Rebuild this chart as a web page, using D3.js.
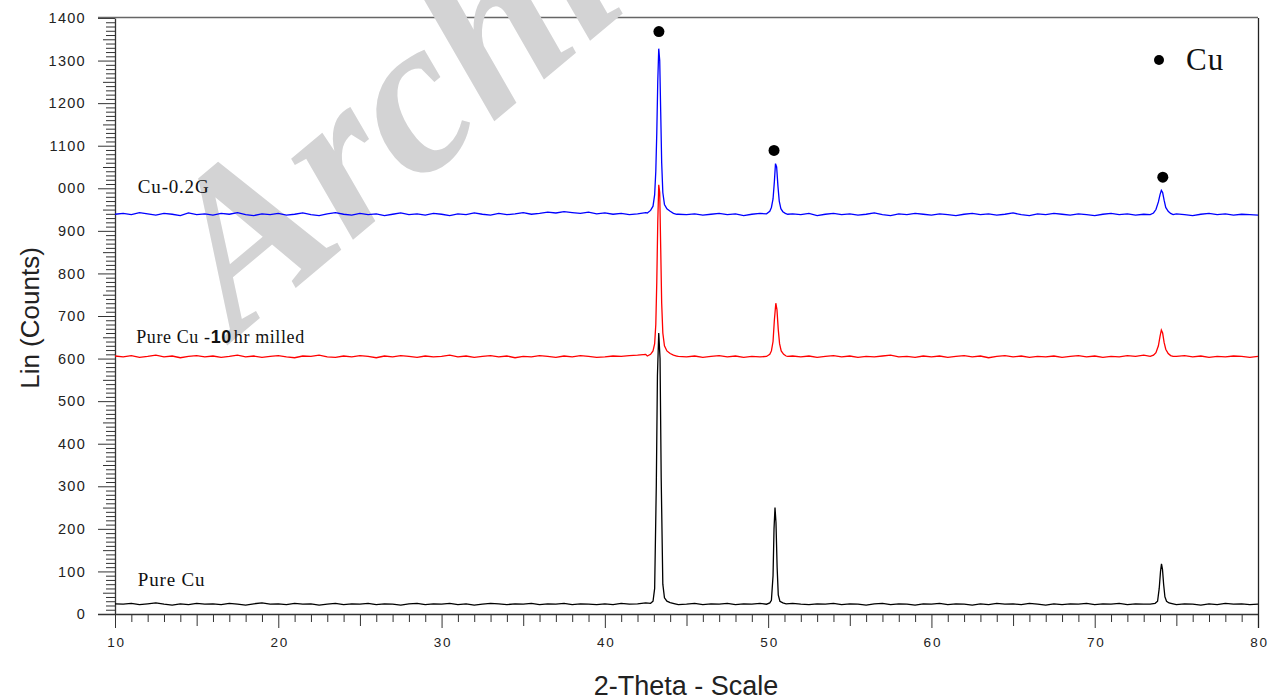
<!DOCTYPE html>
<html>
<head>
<meta charset="utf-8">
<script src="https://cdn.jsdelivr.net/npm/d3@7"></script>
<style>
  body { margin: 0; background: #fff; }
  svg { display: block; font-family: Arial, "Liberation Sans", sans-serif; }
  .tick line { stroke: #333; }
  .tick text { fill: #222; }
  .domain { stroke: #333; }
  .serif { font-family: "Liberation Serif", "Times New Roman", serif; fill: #111; }
</style>
</head>
<body>
<svg id="chart"></svg>
<script>
(function() {
  'use strict';

  // baseline counts read every 0.5 degree, 10 .. 80
  const baseStart = 10;
  const baseStep = 0.5;

  const blueBase = [
    939, 941, 938, 943, 940, 937, 941, 939, 936, 942, 938, 940, 937, 941, 939, 943, 938, 936, 940, 938,
    941, 937, 939, 942, 938, 936, 940, 943, 939, 937, 941, 938, 940, 936, 939, 942, 938, 940, 937, 941,
    939, 936, 940, 938, 942, 939, 937, 941, 938, 940, 943, 939, 941, 944, 942, 945, 943, 941, 944, 940,
    942, 939, 941, 938, 940, 943, 944, 950, 941, 939, 938, 940, 937, 939, 941, 938, 940, 936, 939, 941,
    944, 950, 960, 940, 938, 941, 936, 939, 941, 938, 940, 937, 939, 942, 938, 936, 940, 938, 941, 939,
    937, 940, 938, 936, 939, 941, 938, 940, 937, 939, 942, 938, 936, 940, 938, 941, 939, 937, 940, 938,
    936, 939, 941, 938, 940, 937, 939, 938, 941, 937, 940, 938, 936, 939, 941, 938, 940, 937, 939, 938,
    937
  ];

  const redBase = [
    606, 604, 607, 603, 605, 608, 604, 606, 602, 605, 607, 604, 606, 603, 605, 608, 604, 606, 603, 605,
    607, 604, 602, 606, 605, 608, 604, 603, 606, 604, 607, 605, 602, 606, 604, 607, 605, 603, 606, 604,
    605, 608, 604, 606, 603, 605, 607, 604, 606, 602, 605, 604, 607, 605, 603, 606, 604, 607, 605, 603,
    604, 606, 605, 607, 608, 610, 612, 609, 607, 605, 604, 606, 603, 605, 607, 604, 606, 603, 605, 604,
    605, 607, 610, 606, 604, 606, 603, 605, 607, 604, 606, 603, 605, 604, 606, 608, 604, 605, 603, 606,
    604, 606, 603, 605, 607, 604, 606, 602, 605, 607, 604, 606, 603, 605, 604, 606, 603, 605, 607, 604,
    606, 603, 605, 604, 607, 605, 608, 604, 606, 603, 605, 607, 604, 606, 603, 605, 604, 606, 605, 603,
    605
  ];

  const blackBase = [
    24, 23, 25, 22, 24, 26, 23, 21, 24, 22, 25, 23, 24, 22, 25, 23, 21, 24, 26, 23,
    24, 22, 25, 23, 24, 21, 23, 25, 22, 24, 23, 25, 22, 24, 23, 21, 24, 25, 22, 24,
    23, 25, 22, 24, 21, 23, 25, 24, 22, 24, 23, 25, 22, 24, 23, 25, 22, 24, 23, 22,
    24, 22, 25, 23, 24, 26, 30, 26, 24, 22, 23, 25, 22, 24, 23, 25, 22, 24, 23, 25,
    24, 26, 30, 25, 23, 22, 24, 23, 25, 22, 24, 23, 21, 24, 25, 22, 24, 23, 21, 24,
    23, 25, 22, 24, 23, 21, 24, 22, 25, 23, 24, 22, 25, 23, 21, 24, 22, 24, 23, 25,
    22, 24, 23, 25, 22, 24, 23, 25, 26, 24, 22, 24, 23, 21, 24, 22, 25, 23, 24, 22,
    23
  ];

  // peak profiles, [2-theta, counts]
  const bluePeaks = [
    [[42.6, 942], [42.8, 948], [42.95, 958], [43.05, 985], [43.12, 1040], [43.18, 1130], [43.24, 1250],
     [43.3, 1328], [43.36, 1300], [43.42, 1180], [43.48, 1060], [43.55, 990], [43.65, 962], [43.8, 952],
     [44.0, 946], [44.2, 941], [44.4, 939]],
    [[49.9, 940], [50.1, 946], [50.2, 955], [50.3, 975], [50.38, 1015], [50.45, 1058], [50.52, 1050],
     [50.6, 1005], [50.68, 970], [50.78, 952], [50.9, 945], [51.05, 941], [51.2, 939]],
    [[73.4, 938], [73.6, 942], [73.75, 950], [73.9, 968], [74.0, 985], [74.08, 995], [74.16, 990],
     [74.25, 972], [74.35, 955], [74.5, 946], [74.65, 941], [74.8, 938]]
  ];

  const redPeaks = [
    [[42.6, 606], [42.8, 610], [42.95, 618], [43.05, 635], [43.12, 680], [43.18, 780], [43.24, 920],
     [43.3, 1008], [43.36, 990], [43.42, 860], [43.48, 730], [43.55, 660], [43.65, 630], [43.8, 618],
     [44.0, 612], [44.2, 608], [44.4, 606]],
    [[49.9, 605], [50.1, 610], [50.2, 618], [50.3, 640], [50.38, 690], [50.47, 730], [50.54, 715],
     [50.62, 668], [50.7, 635], [50.8, 618], [50.95, 610], [51.1, 606], [51.2, 605]],
    [[73.4, 605], [73.6, 608], [73.75, 614], [73.9, 630], [74.0, 652], [74.08, 667], [74.16, 660],
     [74.25, 638], [74.35, 622], [74.5, 612], [74.65, 607], [74.8, 605]]
  ];

  const blackPeaks = [
    [[42.8, 25], [42.95, 30], [43.05, 60], [43.15, 300], [43.22, 560], [43.3, 660], [43.38, 600],
     [43.45, 320], [43.55, 70], [43.65, 38], [43.8, 30], [44.0, 27], [44.3, 24]],
    [[49.9, 23], [50.1, 26], [50.2, 32], [50.3, 90], [50.36, 200], [50.42, 250], [50.48, 215],
     [50.55, 110], [50.62, 45], [50.72, 30], [50.9, 26], [51.1, 24]],
    [[73.4, 23], [73.7, 25], [73.85, 30], [73.95, 60], [74.03, 100], [74.09, 118], [74.15, 105],
     [74.22, 70], [74.3, 40], [74.4, 30], [74.55, 26], [74.8, 24]]
  ];

  // Cu reflections marked with dots
  const cuMarks = [[43.31, 1368], [50.36, 1089], [74.17, 1026]];

  const xMajor = [10, 20, 30, 40, 50, 60, 70, 80];
  const yMajor = [0, 100, 200, 300, 400, 500, 600, 700, 800, 900, 1000, 1100, 1200, 1300, 1400];
  const yLabels = ['0', '100', '200', '300', '400', '500', '600', '700', '800', '900', '000', '1100', '1200', '1300', '1400'];

  const W = 1270, H = 700;
  const left = 115, right = 1258, top = 18, bottom = 614;

  const x = d3.scaleLinear().domain([10, 80]).range([left, right]);
  const y = d3.scaleLinear().domain([0, 1400]).range([bottom, top]);

  const svg = d3.select('#chart')
    .attr('width', W)
    .attr('height', H);

  const buildSeries = (base, peaks) => {
    const windows = peaks.map(p => [p[0][0], p[p.length - 1][0]]);
    const pts = base
      .map((v, i) => [baseStart + i * baseStep, v])
      .filter(d => !windows.some(w => d[0] >= w[0] && d[0] <= w[1]));
    return pts.concat(...peaks).sort((a, b) => a[0] - b[0]);
  };

  // y axis: minor, medium, major ticks
  const yMinor = d3.range(0, 1401, 10).filter(d => d % 50 !== 0);
  const yMid = d3.range(50, 1400, 100);

  svg.append('g')
    .attr('transform', `translate(${left},0)`)
    .call(d3.axisLeft(y).tickValues(yMinor).tickSize(9).tickFormat(''))
    .call(g => g.select('.domain').remove());

  svg.append('g')
    .attr('transform', `translate(${left},0)`)
    .call(d3.axisLeft(y).tickValues(yMid).tickSize(12).tickFormat(''))
    .call(g => g.select('.domain').remove());

  svg.append('g')
    .attr('transform', `translate(${left},0)`)
    .call(d3.axisLeft(y).tickValues(yMajor).tickSize(17).tickSizeOuter(0).tickPadding(12)
      .tickFormat((d, i) => yLabels[i]))
    .call(g => g.selectAll('.tick text')
      .attr('font-size', 14.5)
      .attr('letter-spacing', 1.3))
    .call(g => g.select('.domain').attr('stroke-width', 1.3));

  // x axis: minor, medium, major ticks
  const xMinor = d3.range(10, 81, 1).filter(d => d % 5 !== 0);
  const xMid = d3.range(15, 80, 10);

  svg.append('g')
    .attr('transform', `translate(0,${bottom})`)
    .call(d3.axisBottom(x).tickValues(xMinor).tickSize(8).tickFormat(''))
    .call(g => g.select('.domain').remove());

  svg.append('g')
    .attr('transform', `translate(0,${bottom})`)
    .call(d3.axisBottom(x).tickValues(xMid).tickSize(12).tickFormat(''))
    .call(g => g.select('.domain').remove());

  svg.append('g')
    .attr('transform', `translate(0,${bottom})`)
    .call(d3.axisBottom(x).tickValues(xMajor).tickSize(14).tickSizeOuter(0).tickPadding(9))
    .call(g => g.selectAll('.tick text')
      .attr('font-size', 13.5)
      .attr('letter-spacing', 1.8)
      .attr('dx', 1))
    .call(g => g.select('.domain').remove());

  // frame
  svg.append('line')
    .attr('x1', 98).attr('x2', right)
    .attr('y1', bottom + 0.5).attr('y2', bottom + 0.5)
    .attr('stroke', '#333').attr('stroke-width', 1.3);

  svg.append('line')
    .attr('x1', 98).attr('x2', right)
    .attr('y1', top - 0.5).attr('y2', top - 0.5)
    .attr('stroke', '#666').attr('stroke-width', 1.6);

  svg.append('line')
    .attr('x1', right + 0.5).attr('x2', right + 0.5)
    .attr('y1', top).attr('y2', bottom + 14)
    .attr('stroke', '#222').attr('stroke-width', 1.3);

  // watermark
  svg.append('text')
    .attr('class', 'serif')
    .attr('transform', 'translate(236,338) rotate(-40)')
    .attr('font-size', 222)
    .attr('font-weight', 'bold')
    .attr('font-style', 'italic')
    .style('fill', '#d3d3d4')
    .text('Archive');

  // patterns
  const line = d3.line()
    .x(d => x(d[0]))
    .y(d => y(d[1]));

  const series = [
    {data: buildSeries(blueBase, bluePeaks), color: '#0000ff'},
    {data: buildSeries(redBase, redPeaks), color: '#ff0000'},
    {data: buildSeries(blackBase, blackPeaks), color: '#000000'}
  ];

  svg.selectAll('.pattern')
    .data(series)
    .enter()
    .append('path')
      .attr('class', 'pattern')
      .attr('fill', 'none')
      .attr('stroke', d => d.color)
      .attr('stroke-width', 1.3)
      .attr('stroke-linejoin', 'miter')
      .attr('d', d => line(d.data));

  // Cu markers
  svg.selectAll('.mark')
    .data(cuMarks)
    .enter()
    .append('circle')
      .attr('class', 'mark')
      .attr('cx', d => x(d[0]))
      .attr('cy', d => y(d[1]))
      .attr('r', 5.5)
      .attr('fill', '#000');

  // legend
  svg.append('circle')
    .attr('cx', 1159).attr('cy', 60).attr('r', 5)
    .attr('fill', '#000');

  svg.append('text')
    .attr('class', 'serif')
    .attr('x', 1186).attr('y', 70)
    .attr('font-size', 31)
    .attr('letter-spacing', 1)
    .text('Cu');

  // series labels
  svg.append('text')
    .attr('class', 'serif')
    .attr('x', x(11.4)).attr('y', y(990))
    .attr('font-size', 19)
    .attr('letter-spacing', 0.8)
    .text('Cu-0.2G');

  const milled = svg.append('text')
    .attr('class', 'serif')
    .attr('x', x(11.3)).attr('y', y(636))
    .attr('font-size', 18)
    .attr('letter-spacing', 0.6);
  milled.append('tspan').text('Pure Cu -');
  milled.append('tspan')
    .attr('font-family', 'Arial, "Liberation Sans", sans-serif')
    .attr('font-weight', 'bold')
    .attr('font-size', 18)
    .text('10');
  milled.append('tspan').attr('dx', 2).text('hr milled');

  svg.append('text')
    .attr('class', 'serif')
    .attr('x', x(11.4)).attr('y', y(66))
    .attr('font-size', 19)
    .attr('letter-spacing', 0.8)
    .text('Pure Cu');

  // axis titles
  svg.append('text')
    .attr('transform', 'translate(39,318) rotate(-90)')
    .attr('text-anchor', 'middle')
    .attr('font-size', 26)
    .attr('fill', '#222')
    .text('Lin (Counts)');

  svg.append('text')
    .attr('x', 686).attr('y', 695)
    .attr('text-anchor', 'middle')
    .attr('font-size', 27)
    .attr('fill', '#222')
    .text('2-Theta - Scale');
})();
</script>
</body>
</html>
